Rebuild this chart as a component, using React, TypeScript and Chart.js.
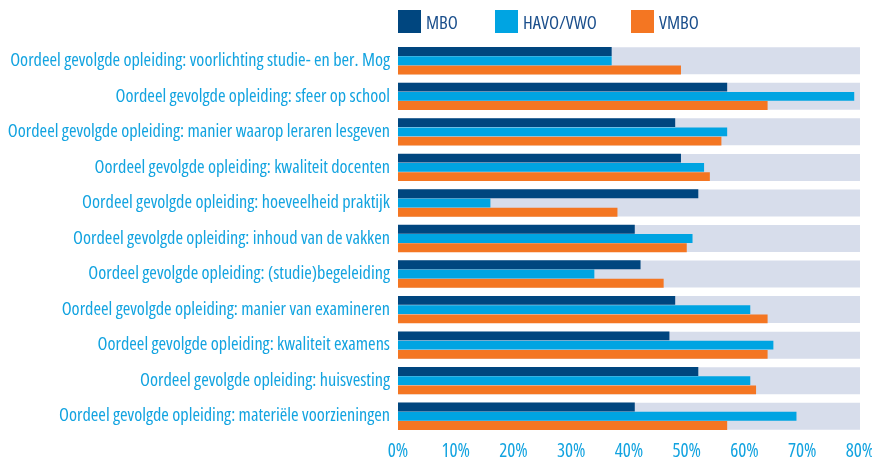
import React, { useEffect, useMemo, useRef } from 'react';
import { Chart, registerables } from 'chart.js';

Chart.register(...registerables);

const categories = [
  'Oordeel gevolgde opleiding: voorlichting studie- en ber. Mog',
  'Oordeel gevolgde opleiding: sfeer op school',
  'Oordeel gevolgde opleiding: manier waarop leraren lesgeven',
  'Oordeel gevolgde opleiding: kwaliteit docenten',
  'Oordeel gevolgde opleiding: hoeveelheid praktijk',
  'Oordeel gevolgde opleiding: inhoud van de vakken',
  'Oordeel gevolgde opleiding: (studie)begeleiding',
  'Oordeel gevolgde opleiding: manier van examineren',
  'Oordeel gevolgde opleiding: kwaliteit examens',
  'Oordeel gevolgde opleiding: huisvesting',
  'Oordeel gevolgde opleiding: materiële voorzieningen',
];

const seriesNames = ['MBO', 'HAVO/VWO', 'VMBO'];
const mboValues = [37, 57, 48, 49, 52, 41, 42, 48, 47, 52, 41];
const havoValues = [37, 79, 57, 53, 16, 51, 34, 61, 65, 61, 69];
const vmboValues = [49, 64, 56, 54, 38, 50, 46, 64, 64, 62, 57];
const trackValues = [80, 80, 80, 80, 80, 80, 80, 80, 80, 80, 80];
const xTickValues = [0, 10, 20, 30, 40, 50, 60, 70, 80];

const COLORS = ['#00467F', '#00A4E2', '#F47622'];
const TRACK = '#D7DDEB';
const LABEL_BLUE = '#12A3E0';
const LEGEND_TEXT = '#1B4F8C';

const legendLefts = [398, 495, 631];

function pickFont() {
  const ctx = document.createElement('canvas').getContext('2d') as CanvasRenderingContext2D;
  const sample = categories[0];
  const families = [
    "'Liberation Sans Narrow'",
    "'DejaVu Sans Condensed'",
    "'Noto Sans'",
    "'Open Sans'",
    "'Roboto'",
    "'DejaVu Sans'",
    "'Liberation Sans'",
  ];
  const stretches = ['', 'extra-condensed', 'condensed', 'semi-condensed'];
  const idealSize = 18.5;
  let best = { family: "'Liberation Sans', sans-serif", stretch: '', score: Infinity };
  for (const f of families) {
    ctx.font = `40px ${f}, monospace`;
    const a = ctx.measureText(sample).width;
    ctx.font = '40px monospace';
    const b = ctx.measureText(sample).width;
    if (Math.abs(a - b) < 0.5) continue;
    for (const s of stretches) {
      ctx.font = `${s ? s + ' ' : ''}100px ${f}, monospace`;
      const w = ctx.measureText(sample).width;
      if (s) {
        ctx.font = `100px ${f}, monospace`;
        const w0 = ctx.measureText(sample).width;
        if (Math.abs(w - w0) < 0.5) continue;
      }
      const needed = (100 * 380) / w;
      const score = Math.abs(needed - idealSize) + (needed > idealSize + 1 ? 2 : 0);
      if (score < best.score) best = { family: `${f}, sans-serif`, stretch: s, score };
    }
  }
  const sizeFor = (text: string, target: number, maxSize: number) => {
    ctx.font = `${best.stretch ? best.stretch + ' ' : ''}100px ${best.family}`;
    const w = ctx.measureText(text).width;
    return Math.min(maxSize, (100 * target) / w);
  };
  return {
    family: best.family,
    stretch: best.stretch,
    labelSize: sizeFor(categories[0], 380, 19),
    legendSize: sizeFor('HAVO/VWO', 74, 19),
    tickSize: sizeFor('10%', 29, 19),
  };
}

export default function App() {
  const canvasRef = useRef<HTMLCanvasElement | null>(null);
  const fonts = useMemo(() => pickFont(), []);

  useEffect(() => {
    document.body.style.margin = '0';
    const canvas = canvasRef.current;
    if (!canvas) return;
    const seriesValues = [mboValues, havoValues, vmboValues];
    const weight = fonts.stretch || undefined;
    const chart = new Chart(canvas, {
      type: 'bar',
      data: {
        labels: categories,
        datasets: [
          ...seriesValues.map((vals, i) => ({
            label: seriesNames[i],
            data: vals,
            backgroundColor: COLORS[i],
            borderWidth: 0,
            categoryPercentage: 0.78,
            barPercentage: 0.96,
            order: 0,
          })),
          {
            label: 'track',
            data: trackValues,
            backgroundColor: TRACK,
            borderWidth: 0,
            grouped: false,
            categoryPercentage: 0.76,
            barPercentage: 1,
            order: 5,
          },
        ],
      },
      options: {
        indexAxis: 'y',
        animation: false,
        responsive: false,
        maintainAspectRatio: false,
        layout: { padding: { top: 43, left: 0, right: 12, bottom: 0 } },
        plugins: {
          legend: { display: false },
          tooltip: { enabled: false },
          title: { display: false },
        },
        scales: {
          x: {
            min: 0,
            max: 80,
            afterBuildTicks: (scale: any) => {
              scale.ticks = xTickValues.map((v) => ({ value: v }));
            },
            afterFit: (scale: any) => {
              scale.height = 27;
              scale.paddingRight = 0;
              scale.paddingLeft = 0;
            },
            grid: { display: false, drawTicks: false },
            border: { display: false },
            ticks: {
              color: LABEL_BLUE,
              padding: 6,
              font: { family: fonts.family, size: fonts.tickSize, weight: weight as any },
              callback: (v: any) => `${v}%`,
            },
          },
          y: {
            afterFit: (scale: any) => {
              scale.width = 398;
            },
            grid: { display: false, drawTicks: false },
            border: { display: false },
            ticks: {
              color: LABEL_BLUE,
              padding: 8,
              font: { family: fonts.family, size: fonts.labelSize, weight: weight as any },
            },
          },
        },
      },
    });
    return () => chart.destroy();
  }, [fonts]);

  return (
    <div style={{ position: 'relative', width: 872, height: 461, background: '#fff' }}>
      <canvas ref={canvasRef} width={872} height={461} style={{ display: 'block' }} />
      {seriesNames.map((name, i) => (
        <div
          key={name}
          style={{
            position: 'absolute',
            left: legendLefts[i],
            top: 10,
            display: 'flex',
            alignItems: 'center',
            fontFamily: fonts.family,
            fontStretch: fonts.stretch || 'normal',
            fontSize: fonts.legendSize,
            color: LEGEND_TEXT,
            lineHeight: '23px',
          }}
        >
          <span style={{ display: 'inline-block', width: 23, height: 23, background: COLORS[i], marginRight: 5 }} />
          <span>{name}</span>
        </div>
      ))}
    </div>
  );
}
